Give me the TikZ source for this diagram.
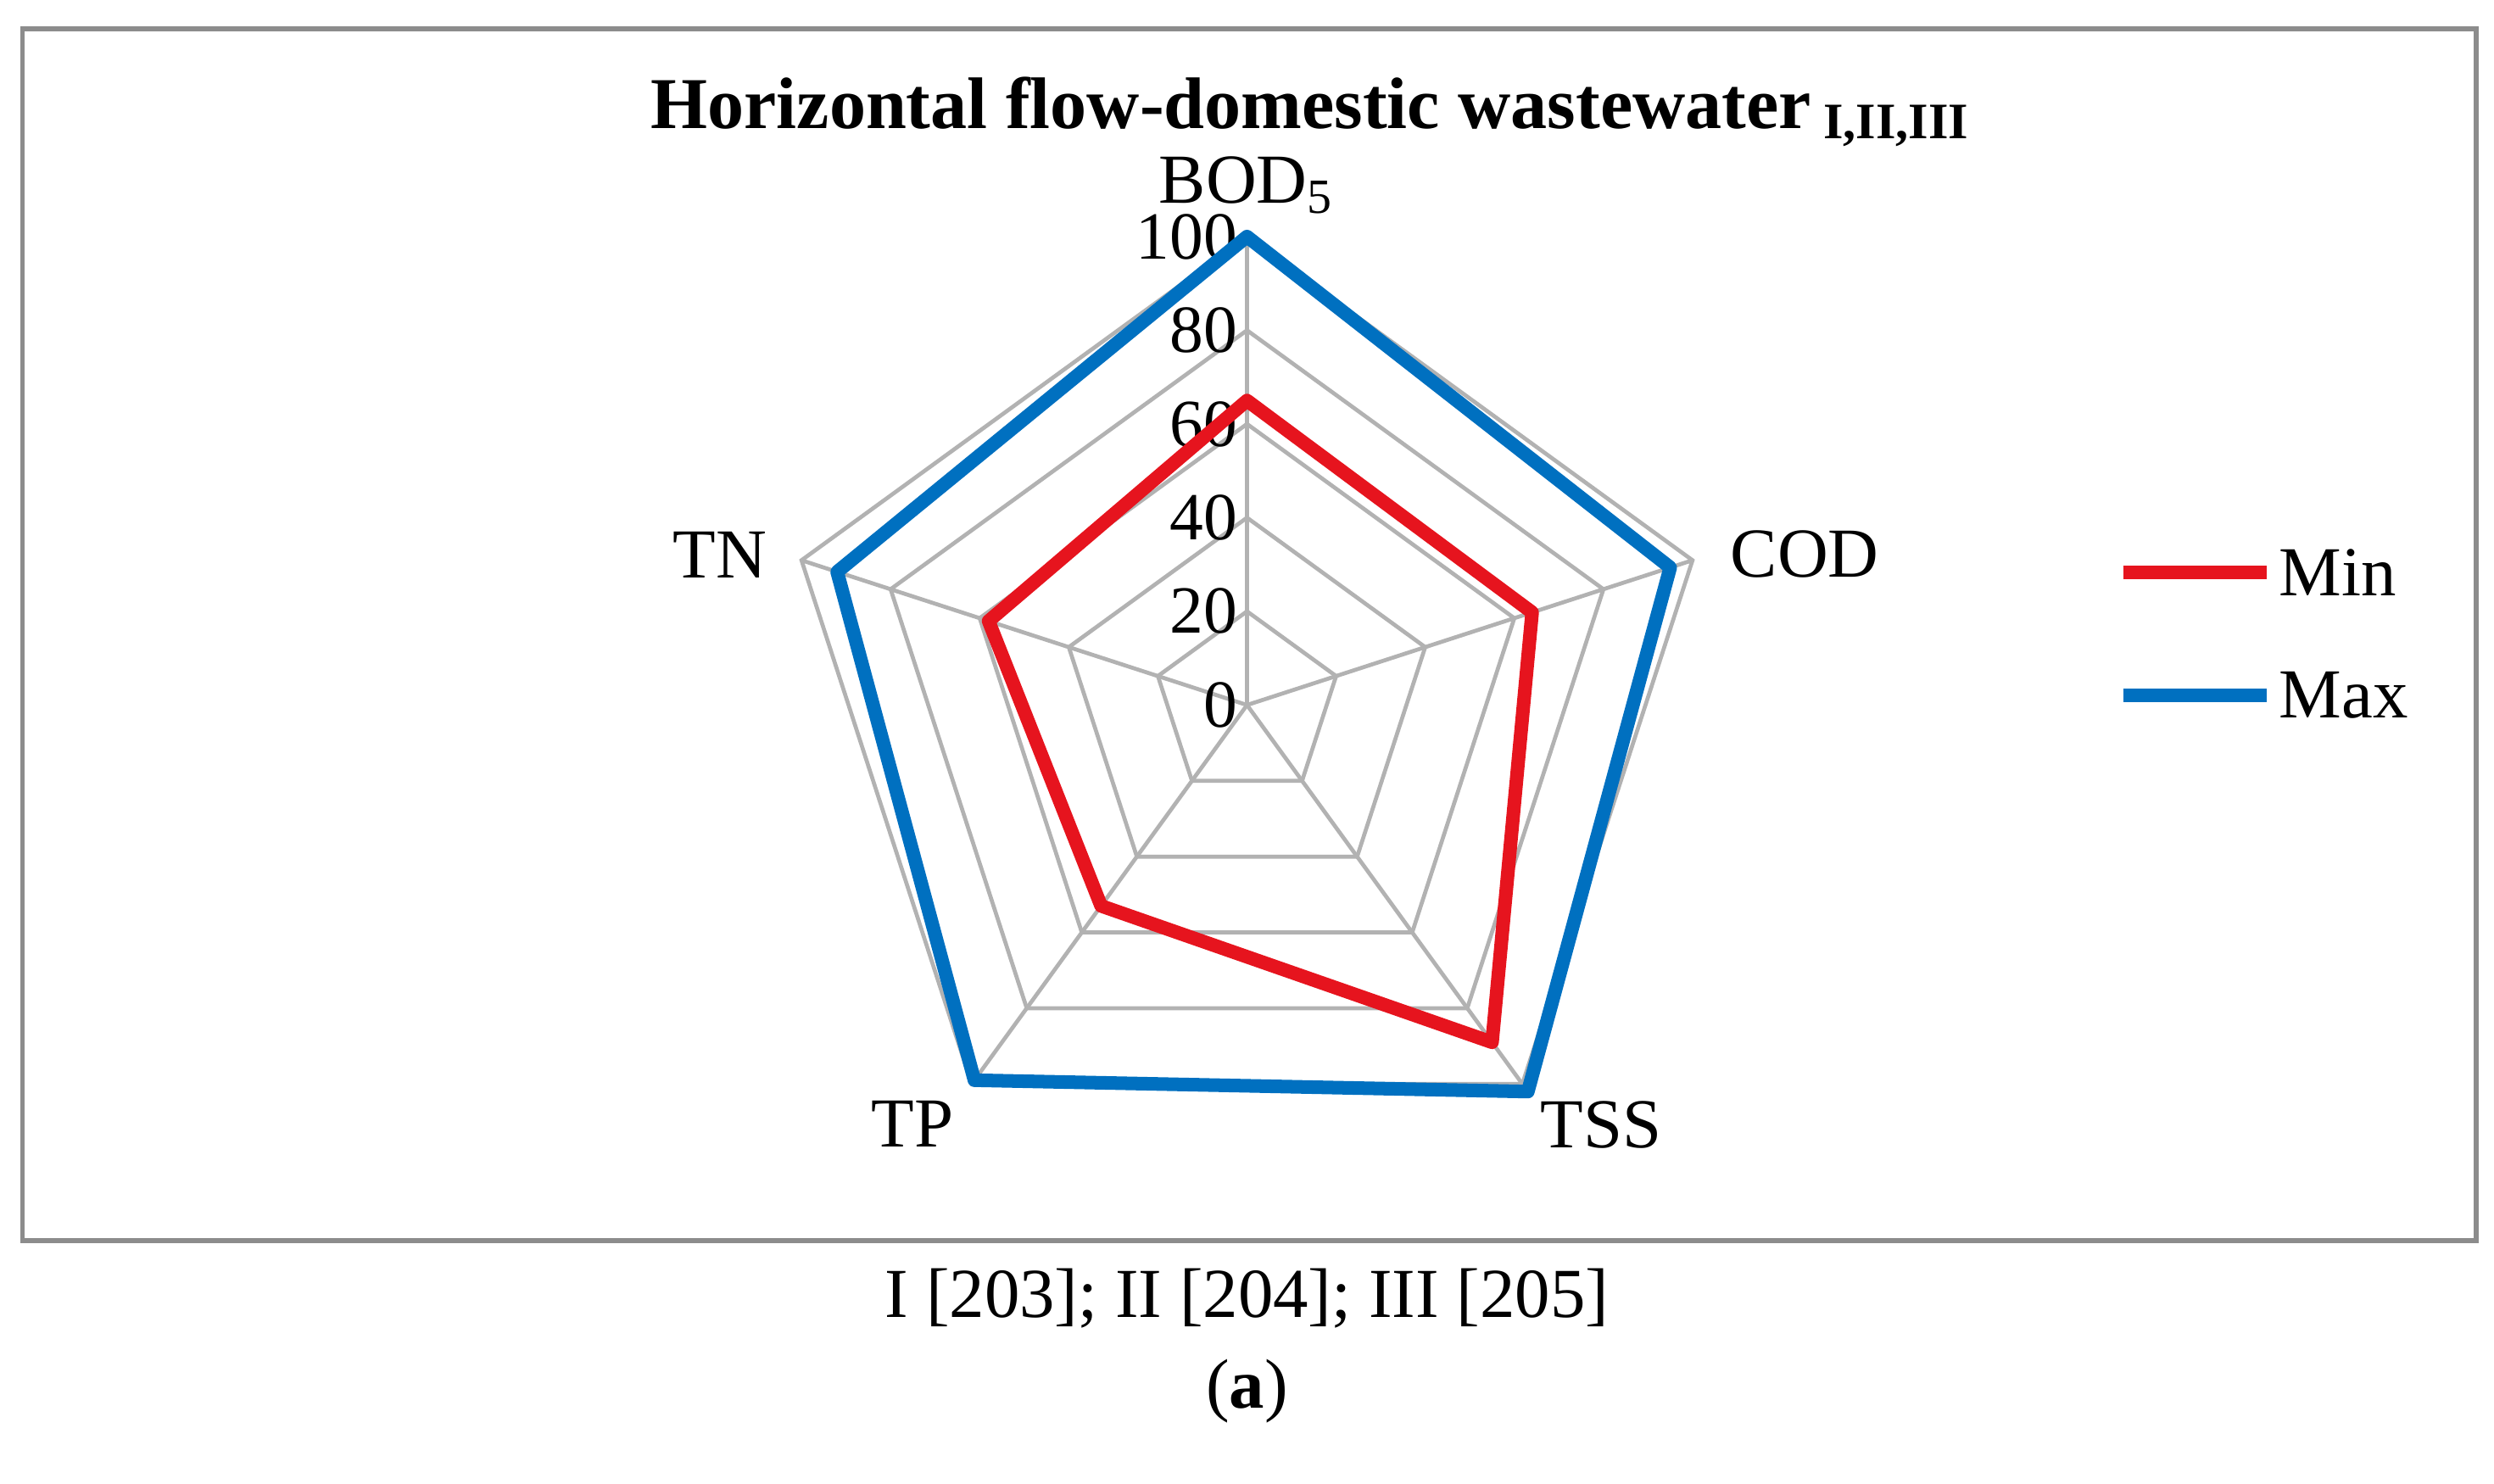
\documentclass[tikz,border=0pt]{standalone}
\usepackage{fontspec}
\setmainfont{Liberation Serif}
\definecolor{minc}{RGB}{230,20,30}
\definecolor{maxc}{RGB}{0,112,192}
\begin{document}
\begin{tikzpicture}[x=0.1mm,y=0.1mm,
  grid/.style={draw=black!30,line width=0.25mm},
  minl/.style={draw=minc,line width=0.85mm,line join=round},
  maxl/.style={draw=maxc,line width=0.85mm,line join=round},
  lab/.style={font=\fontsize{12.5}{15}\selectfont},
  tick/.style={font=\fontsize{12}{14}\selectfont,anchor=east,inner sep=1pt}]
\useasboundingbox (0,0) rectangle (1560,928);
\draw[black!45,line width=0.3mm] (14,152) rectangle (1549,910);
\begin{scope}[shift={(780,487)}]
\def\R{2.93}
\foreach \r in {20,40,60,80,100}{
  \draw[grid] (90:{\r*\R}) -- (18:{\r*\R}) -- (-54:{\r*\R}) -- (-126:{\r*\R}) -- (162:{\r*\R}) -- cycle;
}
\foreach \a in {90,18,-54,-126,162}{\draw[grid] (0,0) -- (\a:{100*\R});}
\foreach \v in {0,20,40,60,80,100}{\node[tick] (t\v) at (-2,{\v*\R}) {\v};}
\draw[minl] (90:{65*\R}) -- (18:{64*\R}) -- (-54:{89*\R}) -- (-126:{53*\R}) -- (162:{58*\R}) -- cycle;
\draw[maxl] (90:{100*\R}) -- (18:{95*\R}) -- (-54:{102*\R}) -- (-126:{99*\R}) -- (162:{92*\R}) -- cycle;
\node[lab,anchor=south] (bod) at (0,{100*\R+2}) {BOD\textsubscript{5}};
\node[lab,anchor=west] (cod) at (18:{100*\R+12}) {COD};
\node[lab,anchor=north west] (tss) at (-54:{100*\R-2}) {TSS};
\node[lab,anchor=north east] (tp) at (-126:{100*\R-2}) {TP};
\node[lab,anchor=east] (tn) at (162:{100*\R+10}) {TN};
\end{scope}
\node[font=\bfseries\fontsize{13}{16}\selectfont] (title) at (820,858) {Horizontal flow-domestic wastewater\,\textsubscript{I,II,III}};
\coordinate (m1) at (1328,570); \coordinate (m2) at (1418,570);
\draw[minl] (m1) -- (m2);
\node[lab,anchor=west,inner sep=2pt] (minlab) at (m2) {Min};
\coordinate (x1) at (1328,493); \coordinate (x2) at (1418,493);
\draw[maxl] (x1) -- (x2);
\node[lab,anchor=west,inner sep=2pt] (maxlab) at (x2) {Max};
\node[lab] (cap) at (780,116) {I [203]; II [204]; III [205]};
\node[lab] (a) at (780,58) {(\textbf{a})};
\end{tikzpicture}
\end{document}
